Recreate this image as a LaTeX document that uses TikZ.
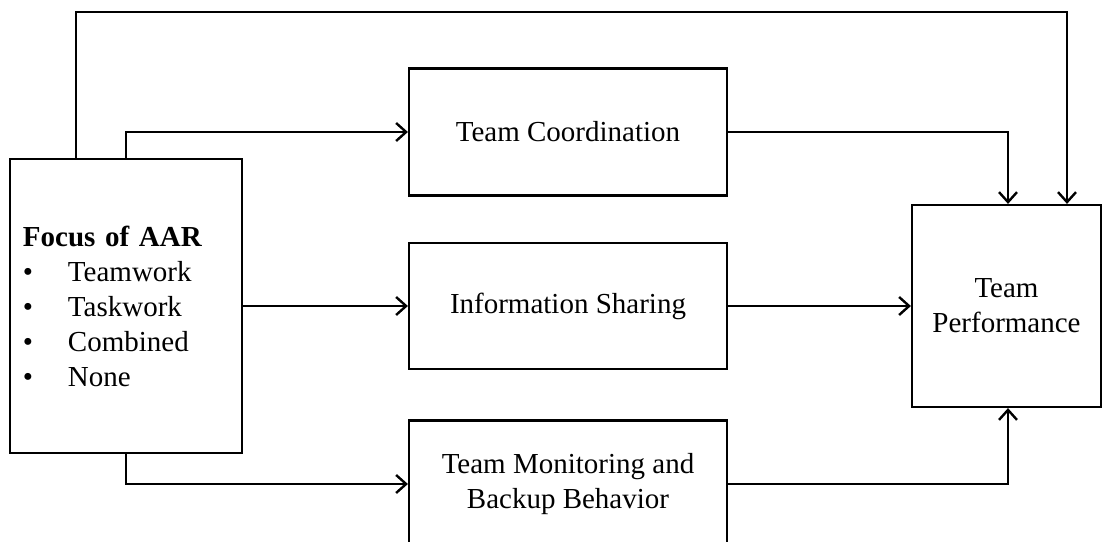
\documentclass[tikz,border=0pt]{standalone}
\usepackage{fontspec}
\setmainfont{Liberation Serif}
\usetikzlibrary{arrows.meta}

\tikzset{
  box/.style={draw=black, line width=2.2pt, rectangle, inner sep=0pt,
              align=center, font=\fontsize{29}{35}\selectfont},
  conn/.style={draw=black, line width=2.2pt},
  arr/.style={conn, -{Straight Barb[length=10pt,width=18pt,line width=2.4pt]}}
}

\begin{document}
\begin{tikzpicture}[x=1pt, y=-1pt]
  \clip (0,0) rectangle (1102,541);

  % antecedent: the AAR focus box
  \node[box, minimum width=232pt, minimum height=294pt,
        text width=206pt, align=left] (focus) at (126,306)
    {\textbf{Focus of AAR}\\
     \makebox[45pt][l]{•}Teamwork\\
     \makebox[45pt][l]{•}Taskwork\\
     \makebox[45pt][l]{•}Combined\\
     \makebox[45pt][l]{•}None};

  % team processes
  \node[box, minimum width=318pt, minimum height=127pt] (coord) at (568,132)
    {Team Coordination};
  \node[box, minimum width=318pt, minimum height=126pt] (info) at (568,306)
    {Information Sharing};
  \node[box, minimum width=318pt, minimum height=127pt] (mon) at (568,484)
    {Team Monitoring and\\Backup Behavior};

  % outcome
  \node[box, minimum width=189pt, minimum height=202pt] (perf) at (1006.5,306)
    {Team\\Performance};

  % direct path from the focus box to performance
  \draw[arr] ([xshift=-50pt]focus.north) -- ++(0,-146) -| ([xshift=60.5pt]perf.north);

  % focus box to each process
  \draw[arr] (focus.north) |- (coord.west);
  \draw[arr] (focus.east) -- (info.west);
  \draw[arr] (focus.south) |- (mon.west);

  % processes to performance
  \draw[arr] (coord.east) -| ([xshift=1.5pt]perf.north);
  \draw[arr] (info.east) -- (perf.west);
  \draw[arr] (mon.east) -| ([xshift=1.5pt]perf.south);
\end{tikzpicture}
\end{document}
